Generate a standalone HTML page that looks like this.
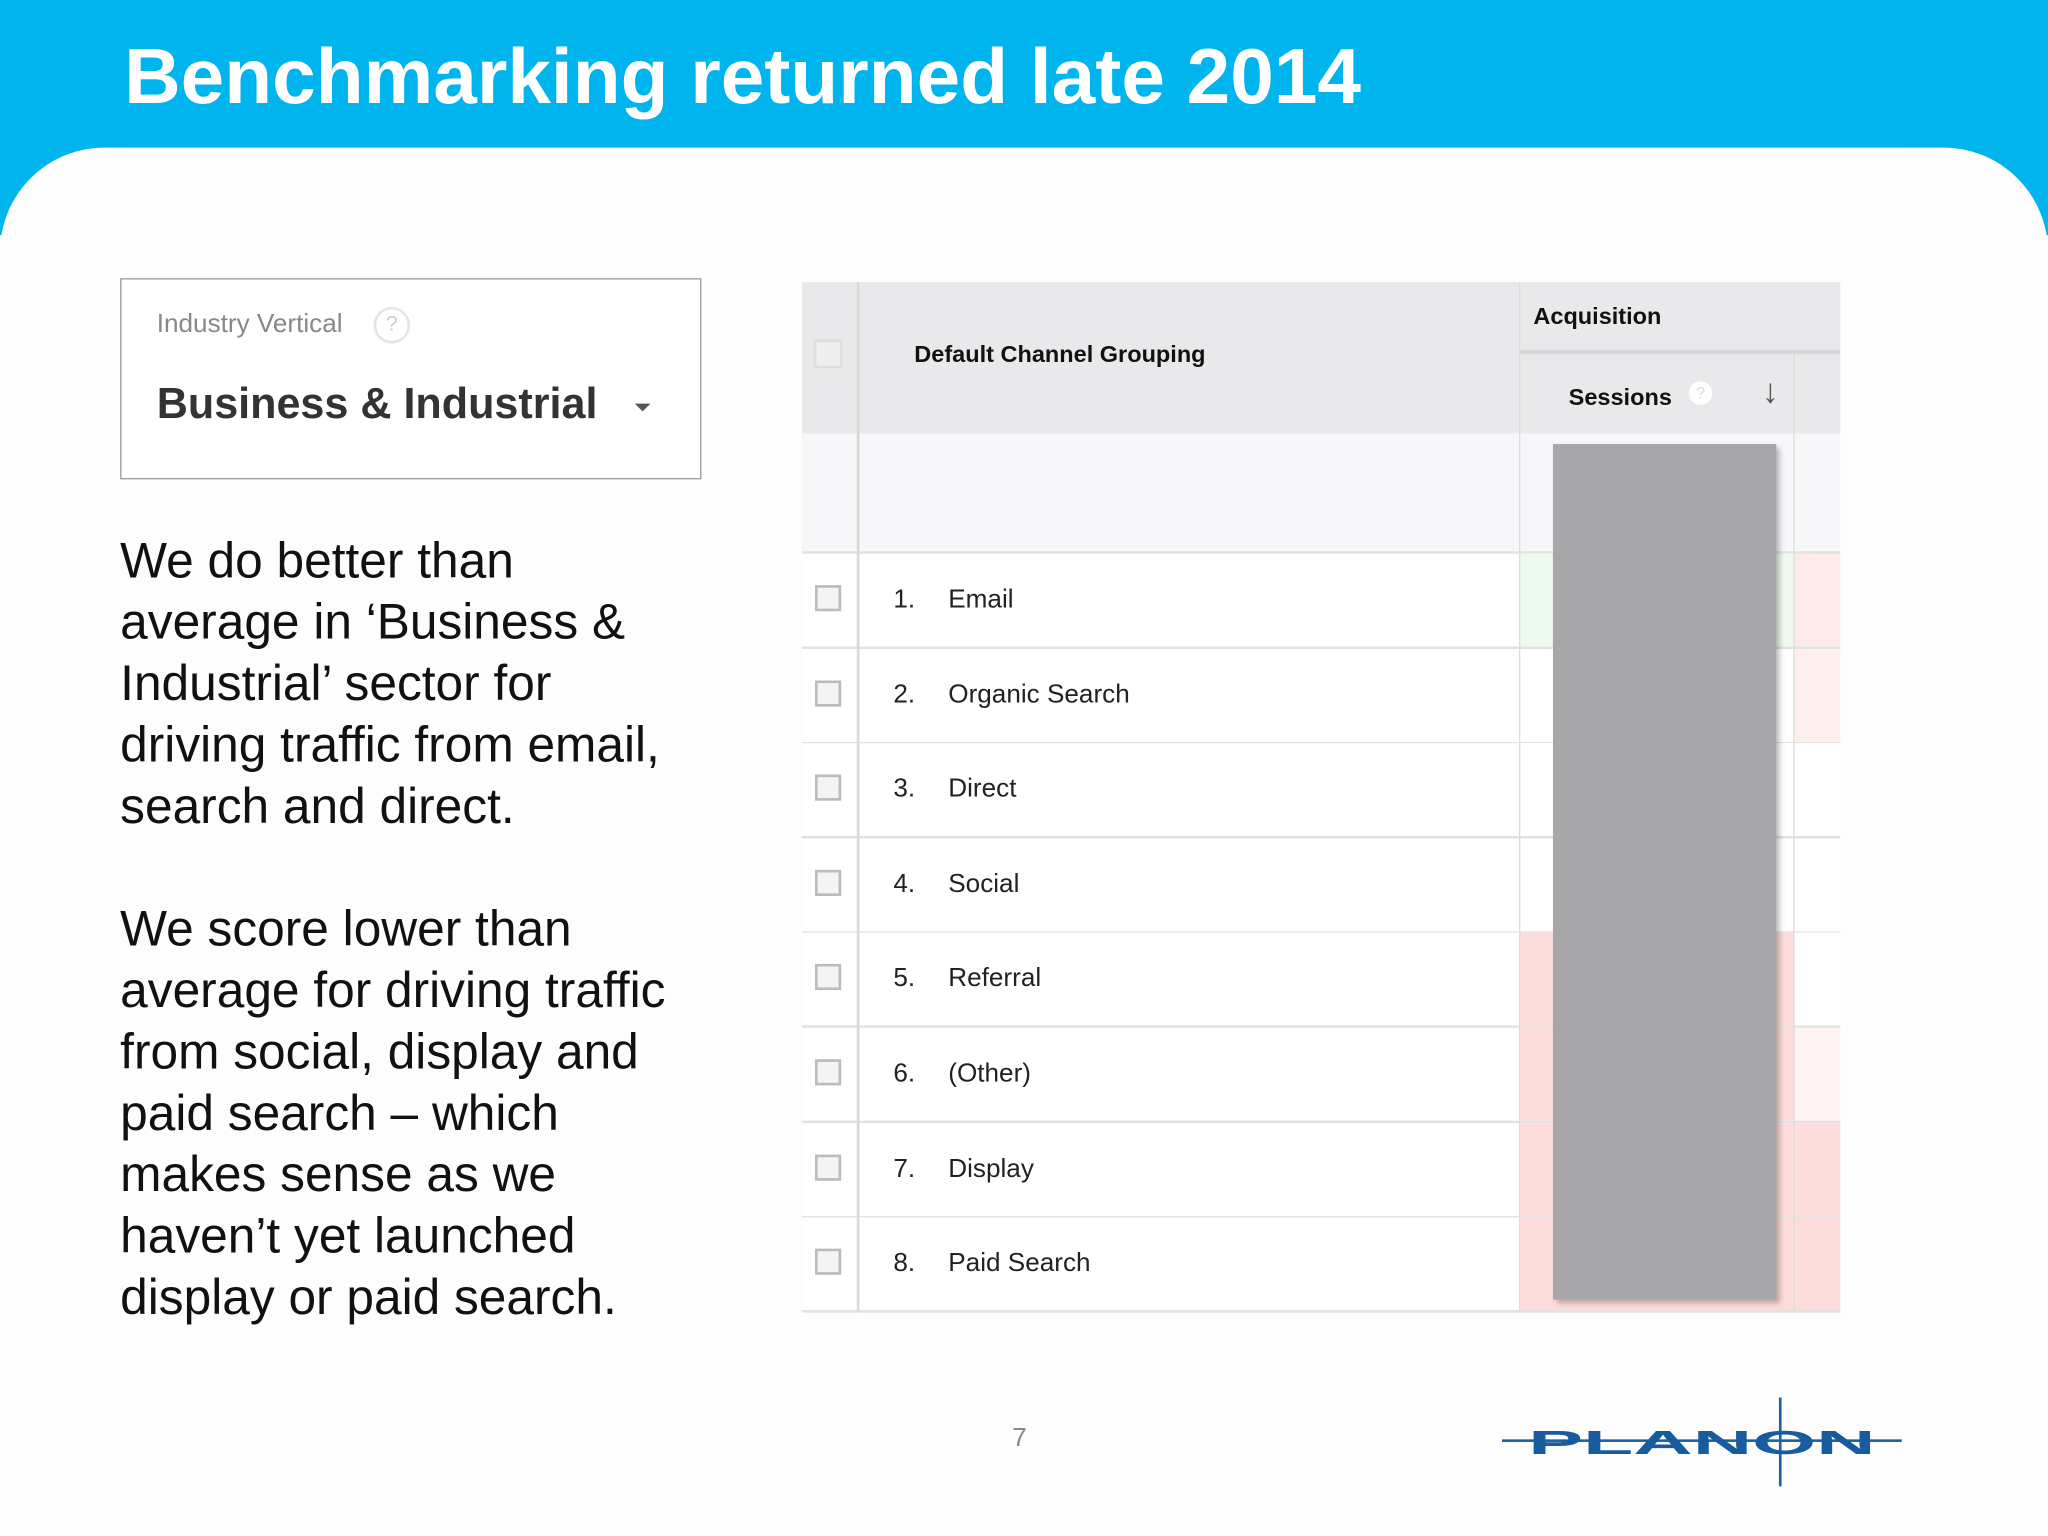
<!DOCTYPE html>
<html><head><meta charset="utf-8"><style>
html,body{margin:0;padding:0;width:2048px;height:1536px;overflow:hidden;background:#fdfdfd}
#s{position:absolute;left:0;top:0;width:1568px;height:1176px;transform:scale(1.306122);transform-origin:0 0;font-family:"Liberation Sans",sans-serif;background:#fdfdfd}
.a{position:absolute}
.row{position:absolute;left:614px;width:795px;height:71px;border-bottom:2px solid #e2e2e2;background:#fff}
.cb{position:absolute;left:10px;top:24px;width:16px;height:16px;border:2px solid #bbb;background:#f4f4f4}
.num{position:absolute;left:70px;top:24px;font-size:20px;color:#222}
.lab{position:absolute;left:112px;top:24px;font-size:20px;color:#222}
.sc{position:absolute;left:549px;width:211px;top:0;height:71px}
.rc{position:absolute;left:760px;width:35px;top:0;height:71px}
</style></head><body>
<div id="s">
<div class="a" style="left:0;top:0;width:1568px;height:180px;background:#00b4ee"></div>
<div class="a" style="left:0;top:113px;width:1568px;height:200px;background:#fdfdfd;border-radius:80px 80px 0 0"></div>
<div class="a" style="left:95px;top:24px;font-size:60px;font-weight:bold;color:#fff">Benchmarking returned late 2014</div>

<div class="a" style="left:92px;top:213px;width:443px;height:152px;border:1px solid #999;background:#fff">
  <div class="a" style="left:27px;top:23px;font-size:20px;color:#888">Industry Vertical</div>
  <div class="a" style="left:193px;top:21px;width:24px;height:24px;border:2px solid #e4e4e4;border-radius:50%;color:#ccc;font-size:16px;text-align:center;line-height:24px">?</div>
  <div class="a" style="left:27px;top:76px;font-size:33px;font-weight:bold;color:#333">Business &amp; Industrial</div>
  <div class="a" style="left:393px;top:95px;width:0;height:0;border-left:6px solid transparent;border-right:6px solid transparent;border-top:6px solid #555"></div>
</div>

<div class="a" style="left:92px;top:407px;width:520px;font-size:38px;line-height:47px;color:#111;white-space:nowrap">
<div>We do better than<br>average in ‘Business &amp;<br>Industrial’ sector for<br>driving traffic from email,<br>search and direct.</div>
<div style="margin-top:47px">We score lower than<br>average for driving traffic<br>from social, display and<br>paid search – which<br>makes sense as we<br>haven’t yet launched<br>display or paid search.</div>
</div>

<div class="a" style="left:614px;top:216px;width:795px;height:116px;background:#e9e9eb"></div>
<div class="a" style="left:1163px;top:268px;width:246px;height:3px;background:#d6d6d8"></div>
<div class="a" style="left:614px;top:332px;width:795px;height:90px;background:#f7f7f9;border-bottom:2px solid #e2e2e2"></div>
<div class="a" style="left:623px;top:260px;width:18px;height:18px;border:2px solid #ddd;background:#eee"></div>
<div class="a" style="left:700px;top:261px;font-size:18px;font-weight:bold;color:#111">Default Channel Grouping</div>
<div class="a" style="left:1174px;top:232px;font-size:18px;font-weight:bold;color:#111">Acquisition</div>
<div class="a" style="left:1201px;top:294px;font-size:18px;font-weight:bold;color:#111">Sessions</div>
<div class="a" style="left:1293px;top:292px;width:18px;height:18px;border-radius:50%;background:#fff;color:#ddd;font-size:13px;text-align:center;line-height:18px">?</div>
<div class="a" style="left:1349px;top:284px;font-size:26px;font-weight:bold;color:#555">↓</div>

<div id="rows"></div>

<div class="a" style="left:656px;top:216px;width:2px;height:789px;background:#d8d8d8"></div>
<div class="a" style="left:1163px;top:216px;width:1px;height:789px;background:#dcdcdc"></div>
<div class="a" style="left:1373px;top:270px;width:1px;height:735px;background:#dcdcdc"></div>
<div class="a" style="left:1189px;top:340px;width:171px;height:655px;background:#a7a6a8;box-shadow:3px 3px 4px rgba(0,0,0,0.25)"></div>

<div class="a" style="left:775px;top:1090px;font-size:20px;color:#888">7</div>
<div class="a" style="left:1150px;top:1070px;width:306px;height:68px">
  <div class="a" style="left:0;top:32px;width:306px;height:2px;background:#1e5fa0"></div>
  <div class="a" style="left:212px;top:0;width:2px;height:68px;background:#1e5fa0"></div>
  <div class="a" style="left:20px;top:14px;font-size:36px;font-weight:900;color:#175c9e;letter-spacing:0px;transform:scaleX(1.75) scaleY(0.7);transform-origin:0 50%">PLANON</div>
</div>
</div>
<script>
const channels=["Email","Organic Search","Direct","Social","Referral","(Other)","Display","Paid Search"];
const sessTint=["#eefaee","#fff","#fff","#fff","#ffdcdc","#ffdcdc","#ffdcdc","#ffdcdc"];
const rightTint=["#ffeaea","#ffeeee","#fff","#fff","#fff","#fff2f2","#ffdcdc","#ffdcdc"];
const host=document.getElementById('rows');
channels.forEach((c,i)=>{
 const r=document.createElement('div');r.className='row';r.style.top=(424+i*72.6)+'px';
 
 
 r.innerHTML='<div class="sc" style="background:'+sessTint[i]+'"></div><div class="rc" style="background:'+rightTint[i]+'"></div><div class="cb"></div><div class="num">'+(i+1)+'.</div><div class="lab">'+c+'</div>';
 host.appendChild(r);
});
</script>
</body></html>
